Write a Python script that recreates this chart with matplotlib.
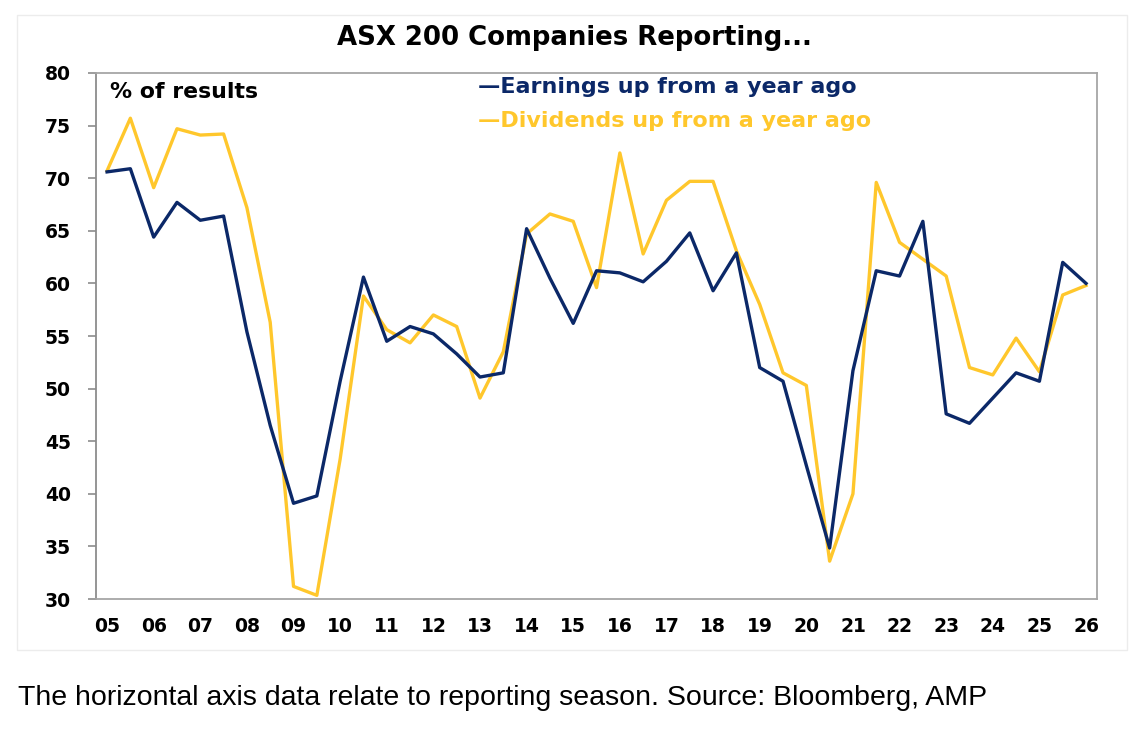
import numpy as np
import matplotlib.pyplot as plt
from matplotlib.patches import Rectangle

# reporting seasons, two per year (Feb and Aug), 2005 to 2026
years = ["05", "06", "07", "08", "09", "10", "11", "12", "13", "14", "15",
         "16", "17", "18", "19", "20", "21", "22", "23", "24", "25", "26"]

earnings = [70.6, 70.9, 64.4, 67.7, 66.0, 66.4, 55.4, 46.5, 39.1, 39.8,
            50.7, 60.6, 54.5, 55.9, 55.2, 53.3, 51.1, 51.5, 65.2, 60.5,
            56.2, 61.2, 61.0, 60.15, 62.1, 64.8, 59.3, 62.9, 52.0, 50.7,
            42.7, 34.85, 51.7, 61.2, 60.7, 65.9, 47.6, 46.7, 49.1, 51.5,
            50.7, 62.0, 60.0]

dividends = [70.7, 75.7, 69.1, 74.7, 74.1, 74.2, 67.2, 56.3, 31.2, 30.35,
             43.3, 58.8, 55.6, 54.35, 57.0, 55.9, 49.1, 53.5, 64.7, 66.6,
             65.9, 59.6, 72.4, 62.8, 67.9, 69.7, 69.7, 63.1, 58.0, 51.5,
             50.3, 33.6, 40.0, 69.6, 63.9, 62.3, 60.7, 52.0, 51.3, 54.8,
             51.6, 58.9, 59.8]

navy = "#0b2868"
gold = "#ffc72c"
grey = "#8c8c8c"

year_pos = np.arange(len(years))
season_pos = np.arange(len(earnings)) * 0.5

fig = plt.figure(figsize=(11.38, 7.47), dpi=100)
ax = fig.add_axes([0.0844, 0.1981, 0.8796, 0.7042])

ax.plot(season_pos, earnings, color=navy, lw=2.4, zorder=3)
ax.plot(season_pos, dividends, color=gold, lw=2.4, zorder=2)

ax.set_xlim(-0.236, len(years) - 1 + 0.236)
ax.set_ylim(30, 80)
ax.set_yticks(np.arange(30, 81, 5))
ax.set_xticks(year_pos)
ax.set_xticklabels(years)

for s in ax.spines.values():
    s.set_color("#a6a6a6")
    s.set_linewidth(1.3)
ax.spines["left"].set_color(grey)

ax.tick_params(axis="y", length=6, width=1.2, color=grey, pad=12,
               labelsize=13.5)
ax.tick_params(axis="x", length=0, pad=13, labelsize=13.5)
for lab in ax.get_xticklabels() + ax.get_yticklabels():
    lab.set_fontweight("bold")

ax.text(0.014, 0.964, "% of results", transform=ax.transAxes,
        fontsize=15.8, fontweight="bold", va="center", ha="left")
ax.text(0.382, 0.973, "\u2014Earnings up from a year ago", transform=ax.transAxes,
        fontsize=16, fontweight="bold", color=navy, va="center", ha="left")
ax.text(0.382, 0.909, "\u2014Dividends up from a year ago", transform=ax.transAxes,
        fontsize=16, fontweight="bold", color=gold, va="center", ha="left")

fig.text(0.505, 0.949, "ASX 200 Companies Reporting...", fontsize=18.7,
         fontweight="bold", ha="center", va="center")

# faint border around the chart object
fig.patches.append(Rectangle((17 / 1138, 1 - 650 / 747), 1110 / 1138, 635 / 747,
                             transform=fig.transFigure, fill=False,
                             edgecolor="#ececec", lw=1))

fig.text(18 / 1138, 1 - 698 / 747,
         "The horizontal axis data relate to reporting season. Source: Bloomberg, AMP",
         fontsize=20.5, family="Liberation Sans", ha="left", va="center")

fig.savefig("out.png", dpi=100)
